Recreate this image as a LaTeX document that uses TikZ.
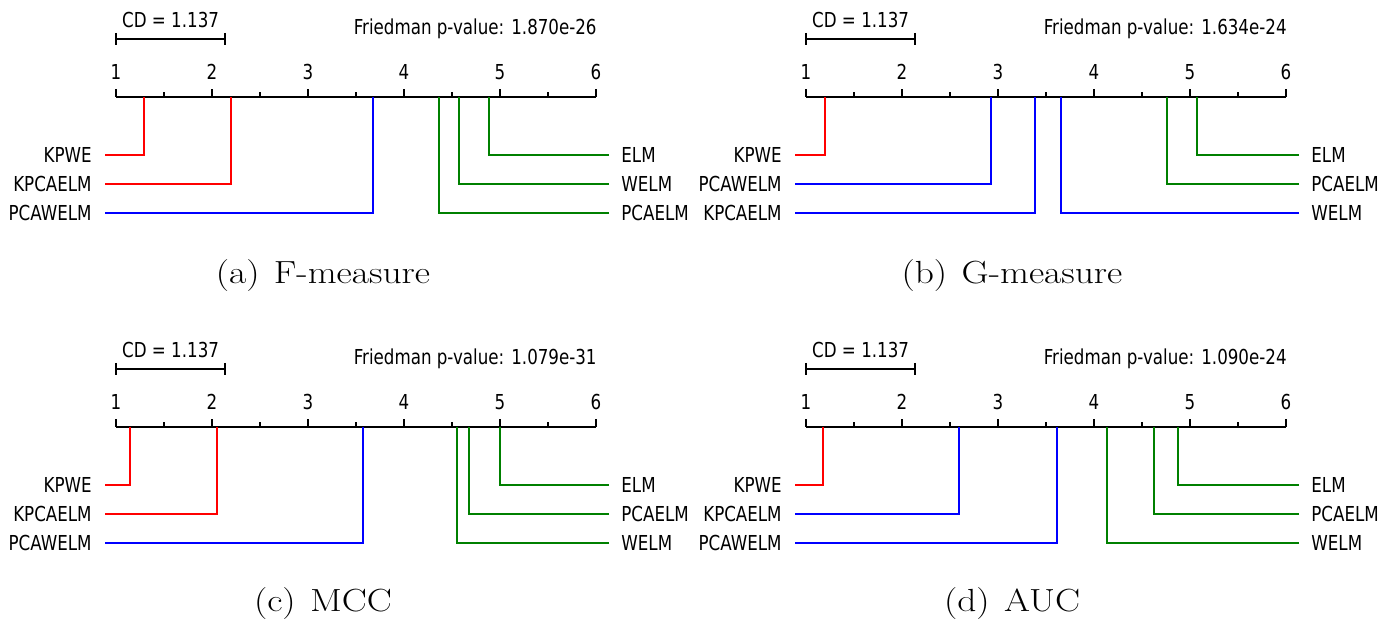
\documentclass[tikz,border=0pt]{standalone}
\usepackage{fontspec}
\setmainfont{DejaVu Sans}[FakeStretch=0.81]
\newfontfamily\capfont{Latin Modern Roman}[FakeStretch=1.17]
\definecolor{cdred}{RGB}{255,0,0}
\definecolor{cdblue}{RGB}{0,0,255}
\definecolor{cdgreen}{RGB}{0,128,0}
\tikzset{
  lbl/.style={font=\fontsize{10.3}{12}\selectfont, inner sep=0pt},
  axisline/.style={line width=1pt, black},
  conn/.style={line width=1pt},
  captext/.style={font=\capfont\fontsize{16}{19}\selectfont, inner sep=0pt, anchor=base},
}
\newcommand\cdaxis[2]{%
  \draw[axisline] (116,97) -- (596,97);
  \foreach \i in {1,...,6}{
    \draw[axisline] ({116+(\i-1)*96},97) -- ++(0,-8);
    \node[lbl,anchor=base] (#1-t\i) at ({116+(\i-1)*96},80) {\i};
  }
  \foreach \i in {1,...,5}{
    \draw[axisline] ({116+(\i-0.5)*96},97) -- ++(0,-4.5);
  }
  \coordinate (#1-cda) at (116,39);
  \coordinate (#1-cdb) at (225,39);
  \draw[axisline] (#1-cda) -- (#1-cdb);
  \draw[axisline] ([yshift=3pt]#1-cda) -- ([yshift=-3pt]#1-cda);
  \draw[axisline] ([yshift=3pt]#1-cdb) -- ([yshift=-3pt]#1-cdb);
  \node[lbl,anchor=base] (#1-cd) at (170.6,28) {CD = 1.137};
  \node[lbl,anchor=base east] (#1-fr) at (597,35) {Friedman p-value: #2};
}
\newcommand\cdL[5]{%
  \coordinate (#1-la#2) at ({round(116+(#3-1)*96)},97);
  \coordinate (#1-ls#2) at (105,{155+(#2-1)*29});
  \node[lbl,anchor=base east] (#1-ln#2) at (92,{162.5+(#2-1)*29}) {#4};
  \draw[conn,draw=#5] (#1-ls#2) -| (#1-la#2);
}
\newcommand\cdR[5]{%
  \coordinate (#1-ra#2) at ({round(116+(#3-1)*96)},97);
  \coordinate (#1-rs#2) at (609,{155+(#2-1)*29});
  \node[lbl,anchor=base west] (#1-rn#2) at (621,{162.5+(#2-1)*29}) {#4};
  \draw[conn,draw=#5] (#1-rs#2) -| (#1-ra#2);
}
\begin{document}
\begin{tikzpicture}[x=0.5pt,y=-0.5pt]
\useasboundingbox (0,0) rectangle (1390,619);
% (a)
\begin{scope}
\cdaxis{a}{1.870e-26}
\cdL{a}{1}{1.29}{KPWE}{cdred}
\cdL{a}{2}{2.20}{KPCAELM}{cdred}
\cdL{a}{3}{3.68}{PCAWELM}{cdblue}
\cdR{a}{1}{4.89}{ELM}{cdgreen}
\cdR{a}{2}{4.57}{WELM}{cdgreen}
\cdR{a}{3}{4.36}{PCAELM}{cdgreen}
\end{scope}
% (b)
\begin{scope}[shift={(690,0)}]
\cdaxis{b}{1.634e-24}
\cdL{b}{1}{1.20}{KPWE}{cdred}
\cdL{b}{2}{2.93}{PCAWELM}{cdblue}
\cdL{b}{3}{3.39}{KPCAELM}{cdblue}
\cdR{b}{1}{5.07}{ELM}{cdgreen}
\cdR{b}{2}{4.76}{PCAELM}{cdgreen}
\cdR{b}{3}{3.66}{WELM}{cdblue}
\end{scope}
% (c)
\begin{scope}[shift={(0,330)}]
\cdaxis{c}{1.079e-31}
\cdL{c}{1}{1.15}{KPWE}{cdred}
\cdL{c}{2}{2.05}{KPCAELM}{cdred}
\cdL{c}{3}{3.57}{PCAWELM}{cdblue}
\cdR{c}{1}{5.00}{ELM}{cdgreen}
\cdR{c}{2}{4.68}{PCAELM}{cdgreen}
\cdR{c}{3}{4.55}{WELM}{cdgreen}
\end{scope}
% (d)
\begin{scope}[shift={(690,330)}]
\cdaxis{d}{1.090e-24}
\cdL{d}{1}{1.18}{KPWE}{cdred}
\cdL{d}{2}{2.59}{KPCAELM}{cdblue}
\cdL{d}{3}{3.61}{PCAWELM}{cdblue}
\cdR{d}{1}{4.87}{ELM}{cdgreen}
\cdR{d}{2}{4.62}{PCAELM}{cdgreen}
\cdR{d}{3}{4.14}{WELM}{cdgreen}
\end{scope}
% captions
\node[captext] (capa) at (323,284) {(a)\hspace{0.45em}F-measure};
\node[captext] (capb) at (1012,284) {(b)\hspace{0.45em}G-measure};
\node[captext] (capc) at (323,611) {(c)\hspace{0.45em}MCC};
\node[captext] (capd) at (1012,611) {(d)\hspace{0.45em}AUC};
\end{tikzpicture}
\end{document}
